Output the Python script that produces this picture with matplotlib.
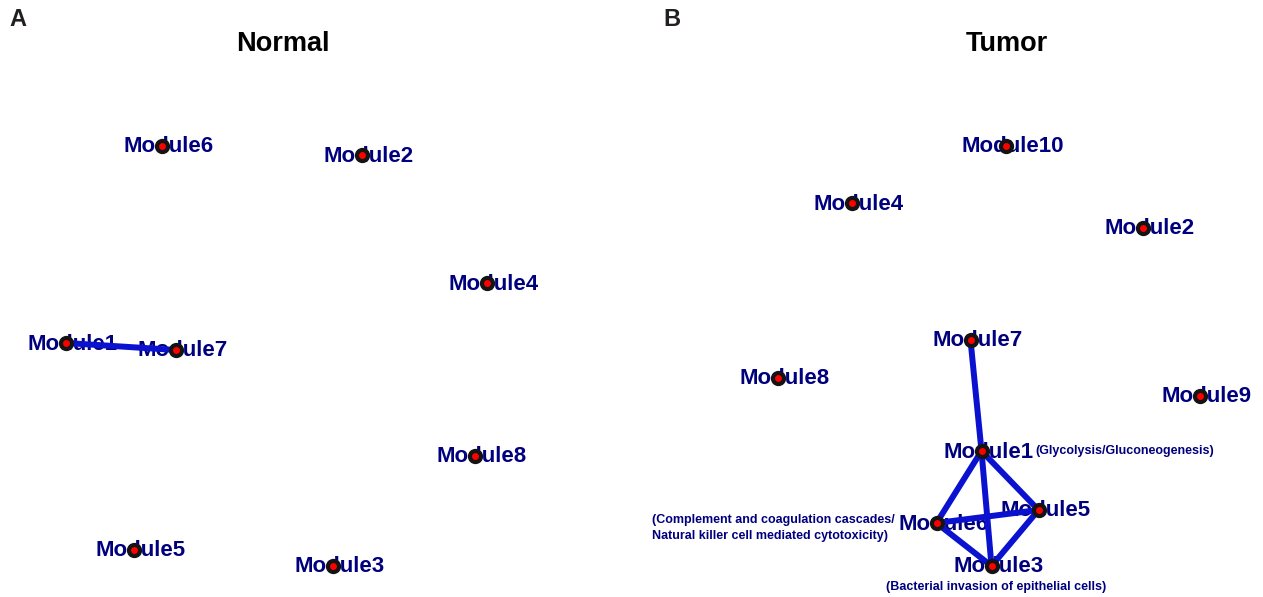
import matplotlib
matplotlib.use("Agg")
import matplotlib.pyplot as plt

plt.rcParams['font.family'] = ['Liberation Sans', 'DejaVu Sans']

# Normal network: node names and layout positions (panel coordinates)
normal_nodes = ["Module6", "Module2", "Module4", "Module1", "Module7", "Module8", "Module5", "Module3"]
normal_x = [162, 362, 487, 66, 176, 475, 134, 333]
normal_y = [146, 155, 283, 343, 350, 456, 550, 566]
normal_edges = [("Module1", "Module7")]

# Tumor network
tumor_nodes = ["Module10", "Module4", "Module2", "Module7", "Module8", "Module9",
               "Module1", "Module6", "Module5", "Module3"]
tumor_x = [374, 220, 511, 339, 146, 568, 350, 305, 407, 360]
tumor_y = [146, 203, 228, 340, 378, 396, 451, 523, 510, 566]
tumor_edges = [("Module7", "Module1"), ("Module1", "Module6"), ("Module1", "Module5"),
               ("Module1", "Module3"), ("Module6", "Module5"), ("Module6", "Module3"),
               ("Module5", "Module3")]

# Pathway annotations for tumor modules: (module, text, x, y offset, ha)
tumor_notes = [
    ("Module1", "(Glycolysis/Gluconeogenesis)", 404, 0, "left"),
    ("Module6", "(Complement and coagulation cascades/\nNatural killer cell mediated cytotoxicity)", 20, 5, "left"),
    ("Module3", "(Bacterial invasion of epithelial cells)", 365, 21, "center"),
]

LABEL = "#00007f"
EDGE = "#0a12d0"

fig = plt.figure(figsize=(12.63, 5.97), dpi=100)


def draw_panel(ax, nodes, xs, ys, edges, title, title_x, letter, letter_x, notes=()):
    ax.set_xlim(0, 631.5)
    ax.set_ylim(597, 0)
    ax.axis("off")
    pos = {n: (x, y) for n, x, y in zip(nodes, xs, ys)}
    for n, (x, y) in pos.items():
        ax.text(x + 7, y + 1, n, ha="center", va="center", fontsize=16,
                fontweight="bold", color=LABEL, zorder=1)
    for a, b in edges:
        ax.plot([pos[a][0], pos[b][0]], [pos[a][1], pos[b][1]], color=EDGE,
                lw=4.3, solid_capstyle="butt", zorder=2)
    ax.plot(xs, ys, ls="none", marker="o", ms=8, mfc="#ff0000", mec="#141414",
            mew=3, zorder=3)
    for n, txt, x, dy, ha in notes:
        ax.text(x, pos[n][1] + dy, txt, ha=ha, va="center", fontsize=9,
                fontweight="bold", color=LABEL, linespacing=1.35, zorder=1)
    ax.text(title_x, 44, title, ha="center", va="center", fontsize=19.5,
            fontweight="bold", color="black")
    ax.text(letter_x, 20, letter, ha="center", va="center", fontsize=17,
            fontweight="bold", color="#231f20")


ax1 = fig.add_axes([0, 0, 0.5, 1])
draw_panel(ax1, normal_nodes, normal_x, normal_y, normal_edges,
           "Normal", 283, "A", 18)

ax2 = fig.add_axes([0.5, 0, 0.5, 1])
draw_panel(ax2, tumor_nodes, tumor_x, tumor_y, tumor_edges,
           "Tumor", 375, "B", 40, tumor_notes)

fig.savefig("out.png", dpi=100)
